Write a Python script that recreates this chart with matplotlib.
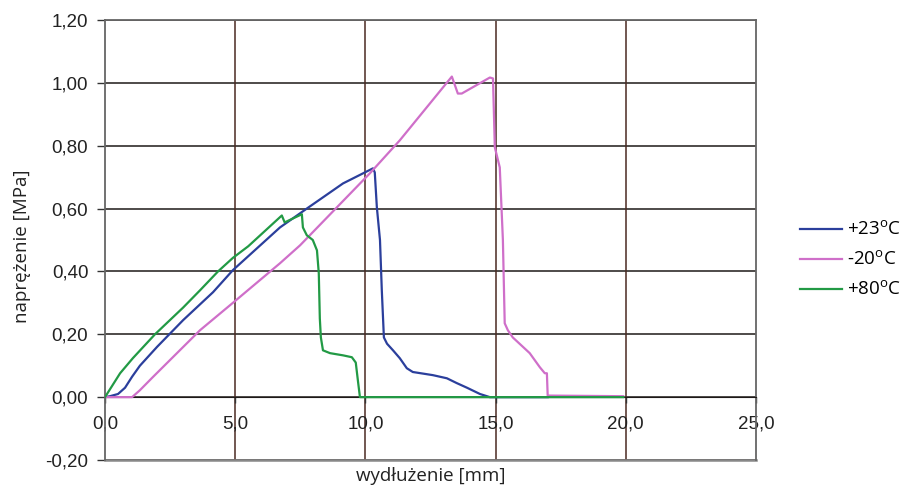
import matplotlib.pyplot as plt
from matplotlib.ticker import FuncFormatter
import numpy as np

# +23 C curve
x23 = [0.0, 0.19, 0.5, 0.77, 1.04, 1.34, 2.0, 3.0, 4.15, 4.91, 6.72, 7.75, 9.14, 10.29, 10.36,
       10.44, 10.56, 10.63, 10.71, 10.83, 11.06, 11.32, 11.59, 11.82, 12.59, 13.13, 13.5, 13.9,
       14.4, 14.78, 17.0]
y23 = [0.0, 0.003, 0.01, 0.03, 0.065, 0.10, 0.16, 0.245, 0.334, 0.404, 0.54, 0.60, 0.68, 0.728,
       0.715, 0.604, 0.50, 0.34, 0.19, 0.17, 0.149, 0.124, 0.092, 0.08, 0.07, 0.06, 0.045, 0.03,
       0.01, 0.0, 0.0]

# -20 C curve
xm20 = [0.0, 1.04, 1.34, 1.84, 3.65, 4.91, 6.72, 7.49, 10.17, 11.32, 13.32, 13.55, 13.7, 14.78,
        14.9, 14.97, 15.16, 15.28, 15.35, 15.47, 15.66, 16.31, 16.7, 16.89, 16.97, 17.0, 19.9]
ym20 = [0.0, 0.0, 0.022, 0.064, 0.213, 0.30, 0.426, 0.483, 0.712, 0.817, 1.02, 0.966, 0.966, 1.017,
        1.014, 0.795, 0.731, 0.50, 0.235, 0.213, 0.19, 0.14, 0.095, 0.076, 0.076, 0.005, 0.003]

# +80 C curve
x80 = [0.0, 0.58, 1.07, 1.92, 3.0, 3.65, 4.34, 4.91, 5.5, 6.79, 6.9, 7.56, 7.6, 7.75, 7.98, 8.14,
       8.21, 8.25, 8.29, 8.37, 8.64, 9.14, 9.48, 9.63, 9.71, 9.79, 19.9]
y80 = [0.0, 0.076, 0.124, 0.20, 0.285, 0.34, 0.40, 0.443, 0.48, 0.578, 0.556, 0.582, 0.54, 0.515,
       0.50, 0.467, 0.394, 0.25, 0.19, 0.149, 0.14, 0.133, 0.127, 0.11, 0.054, 0.0, 0.0]

labels = [r'+23$^{\mathregular{o}}$C', r'-20$^{\mathregular{o}}$C', r'+80$^{\mathregular{o}}$C']
colors = ['#2b3f9c', '#cf6fc9', '#229a45']

xticks = np.arange(0, 26, 5)
yticks = np.arange(-0.2, 1.21, 0.2)

fig = plt.figure(figsize=(9, 4.88), dpi=100)
ax = fig.add_axes([105 / 900, 28 / 488, 651 / 900, 440 / 488])

ax.set_xlim(0, 25)
ax.set_ylim(-0.2, 1.2)
ax.set_xticks(xticks)
ax.set_yticks(yticks)

for yv in yticks:
    ax.axhline(yv, color='#1e1a18', lw=1.1, zorder=1)
for xv in xticks[1:-1]:
    ax.axvline(xv, color='#4a2a22', lw=1.1, zorder=1)

ax.plot(x23, y23, color=colors[0], lw=1.6, label=labels[0], zorder=3)
ax.plot(xm20, ym20, color=colors[1], lw=1.6, label=labels[1], zorder=3)
ax.plot(x80, y80, color=colors[2], lw=1.6, label=labels[2], zorder=4)

# x axis sits on the zero line, box kept around the plot
ax.spines['bottom'].set_position(('data', 0))
ax.spines['bottom'].set_color('#1e1a18')
for s in ['left', 'right', 'top']:
    ax.spines[s].set_color('#666666')
    ax.spines[s].set_linewidth(1.3)
ax.plot([0, 1], [0, 0], transform=ax.transAxes, color='#888888', lw=1.8, clip_on=False)

ax.xaxis.set_major_formatter(FuncFormatter(lambda v, p: f'{v:.1f}'.replace('.', ',')))
ax.yaxis.set_major_formatter(FuncFormatter(lambda v, p: f'{v:.2f}'.replace('.', ',')))
ax.tick_params(axis='y', direction='out', length=6, width=1, pad=6, labelsize=13.5,
               color='#333333', labelcolor='#222222')
ax.tick_params(axis='x', direction='out', length=4, width=1, pad=9, labelsize=13.5,
               color='#333333', labelcolor='#222222')
for t in ax.get_xticklabels() + ax.get_yticklabels():
    t.set_family('Liberation Sans')

ax.set_ylabel('naprężenie [MPa]', fontsize=13.5, family='Open Sans', color='#222222')
ax.yaxis.set_label_coords(-0.114, 0.485)
fig.text(431 / 900, 12 / 488, 'wydłużenie [mm]', fontsize=13.5, family='Open Sans',
         color='#222222', ha='center', va='center')

leg = ax.legend(loc='center left', bbox_to_anchor=(1.068, 0.4545), frameon=False,
                handlelength=2.25, handletextpad=0.25, labelspacing=0.6, borderpad=0,
                borderaxespad=0, prop={'family': 'Open Sans', 'size': 13.5})

fig.savefig('out.png', dpi=100)
